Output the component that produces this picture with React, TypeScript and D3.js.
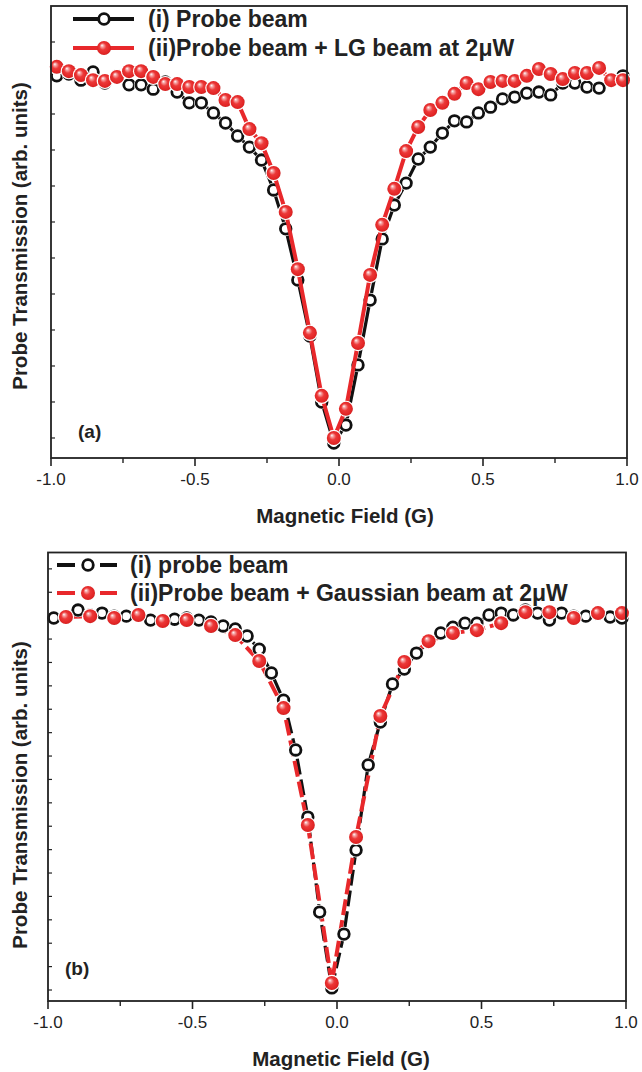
import React from "react";
import * as d3 from "d3";

// ---- data ----
const FIELD = [
  -0.98, -0.938, -0.896, -0.854, -0.813, -0.771, -0.729, -0.687, -0.645, -0.603,
  -0.562, -0.52, -0.478, -0.436, -0.394, -0.352, -0.311, -0.269, -0.227, -0.185,
  -0.143, -0.101, -0.06, -0.018, 0.024, 0.066, 0.108, 0.15, 0.192, 0.233,
  0.275, 0.317, 0.359, 0.401, 0.443, 0.484, 0.526, 0.568, 0.61, 0.652,
  0.694, 0.735, 0.777, 0.819, 0.861, 0.903, 0.945, 0.986,
];
// panel (a)
const A_PROBE = [
  10.06, 10.11, 9.94, 10.17, 9.86, 10.06, 9.81, 9.81, 9.69, 9.89,
  9.61, 9.31, 9.31, 9.03, 8.75, 8.39, 8.08, 7.72, 6.89, 5.81,
  4.39, 2.83, 1.0, -0.14, 0.36, 2.03, 3.83, 5.53, 6.47, 7.08,
  7.75, 8.08, 8.47, 8.81, 8.78, 9.03, 9.19, 9.42, 9.47, 9.58,
  9.61, 9.53, 9.86, 9.86, 9.75, 9.72, 9.94, 10.06,
];
const A_LG = [
  10.31, 10.19, 10.08, 9.94, 9.92, 10.03, 10.19, 10.19, 10.03, 9.83,
  9.83, 9.75, 9.75, 9.72, 9.39, 9.33, 8.58, 8.19, 7.36, 6.28,
  4.69, 2.92, 1.17, 0.0, 0.81, 2.64, 4.53, 5.92, 6.92, 7.97,
  8.64, 9.11, 9.31, 9.56, 9.86, 9.69, 9.89, 9.92, 9.92, 10.06,
  10.25, 10.11, 9.97, 10.14, 10.14, 10.28, 9.94, 9.94,
];
// panel (b)
const B_PROBE = [
  15.9, 15.98, 16.24, 16.03, 16.11, 15.98, 15.98, 16.07, 15.81, 15.81,
  15.85, 15.9, 15.81, 15.73, 15.56, 15.43, 15.13, 14.57, 13.55, 12.39,
  10.26, 7.39, 3.33, 0.09, 2.39, 5.98, 9.62, 11.45, 13.08, 13.72,
  14.4, 14.87, 15.26, 15.51, 15.68, 15.68, 16.03, 16.11, 16.03, 16.24,
  16.11, 15.81, 16.11, 15.98, 15.98, 16.07, 15.94, 15.9,
];
const B_GAUSS_FIELD = [
  -0.938, -0.854, -0.771, -0.687, -0.603, -0.52, -0.436, -0.352, -0.269, -0.185,
  -0.101, -0.018, 0.066, 0.15, 0.233, 0.317, 0.401, 0.484, 0.568, 0.652,
  0.735, 0.819, 0.903, 0.986,
];
const B_GAUSS = [
  15.94, 15.98, 15.9, 16.03, 15.77, 15.81, 15.56, 15.17, 14.06, 12.05,
  7.05, 0.3, 6.54, 11.71, 14.02, 14.91, 15.26, 15.38, 15.68, 16.15,
  16.15, 15.9, 16.11, 16.11,
];
const X_TICKS = [-1, -0.5, 0, 0.5, 1];
const X_MINOR = [-0.75, -0.25, 0.25, 0.75];
const A_YTICKS = [0, 1, 2, 3, 4, 5, 6, 7, 8, 9, 10, 11];
const B_YTICKS = [0, 1, 2, 3, 4, 5, 6, 7, 8, 9, 10, 11, 12, 13, 14, 15, 16, 17, 18];

const LEG_A = ["(i) Probe beam", "(ii)Probe beam + LG beam at 2\u03bcW"];
const LEG_B = ["(i) probe beam", "(ii)Probe beam + Gaussian beam at 2\u03bcW"];

const RED = "#e8282b";
const FONT = "'Liberation Sans', Arial, Helvetica, sans-serif";

type Pt = [number, number];
const zip = (xs: number[], ys: number[]): Pt[] => xs.map((x, i) => [x, ys[i]]);

function Circle({ cx, cy }: { cx: number; cy: number }) {
  return (
    <g>
      <circle cx={cx} cy={cy} r={7.3} fill="#fff" />
      <circle cx={cx} cy={cy} r={5.3} fill="#fff" stroke="#111" strokeWidth={2.8} />
    </g>
  );
}
function Sphere({ cx, cy }: { cx: number; cy: number }) {
  return (
    <g>
      <circle cx={cx} cy={cy} r={8.2} fill="#fff" />
      <circle cx={cx} cy={cy} r={7} fill="url(#sph)" />
    </g>
  );
}

function Panel(props: {
  left: number; right: number; top: number; bottom: number;
  yDomain: [number, number]; yTicks: number[];
  black: Pt[]; red: Pt[]; dashed: boolean;
  legend: string[]; legX: number; legTextX: number; legY: number[];
  tag: string; tagX: number; tagY: number;
  titleX: number; yTitleY: number;
}) {
  const { left, right, top, bottom } = props;
  const x = d3.scaleLinear().domain([-1, 1]).range([left, right]);
  const y = d3.scaleLinear().domain(props.yDomain).range([bottom, top]);
  const line = d3.line<Pt>().x((d) => x(d[0])).y((d) => y(d[1]));
  const dash = props.dashed ? "16,5" : undefined;
  const fmt = (v: number) => d3.format(".1f")(v).replace("\u2212", "-");
  const blackLine = <path d={line(props.black) || ""} fill="none" stroke="#111" strokeWidth={3.2} strokeDasharray={dash} />;
  const redLine = <path d={line(props.red) || ""} fill="none" stroke={RED} strokeWidth={4} strokeDasharray={dash} />;
  const blackMarks = props.black.map((d, i) => <Circle key={"b" + i} cx={x(d[0])} cy={y(d[1])} />);
  const redMarks = props.red.map((d, i) => <Sphere key={"r" + i} cx={x(d[0])} cy={y(d[1])} />);
  const lx = props.legX;
  return (
    <g>
      {props.yTicks.map((t) => (
        <line key={"yt" + t} x1={left} x2={left + 4} y1={y(t)} y2={y(t)} stroke="#222" strokeWidth={1.2} />
      ))}
      {props.dashed ? (
        <g>{blackLine}{redLine}{blackMarks}{redMarks}</g>
      ) : (
        <g>{blackLine}{blackMarks}{redLine}{redMarks}</g>
      )}
      <rect x={left} y={top} width={right - left} height={bottom - top} fill="none" stroke="#222" strokeWidth={1.8} />
      {X_TICKS.map((t) => (
        <g key={"xt" + t}>
          <line x1={x(t)} x2={x(t)} y1={bottom} y2={bottom + 8} stroke="#222" strokeWidth={1.6} />
          <text x={x(t)} y={bottom + 27} textAnchor="middle" fontFamily={FONT} fontSize={17} fill="#222">
            {fmt(t)}
          </text>
        </g>
      ))}
      {X_MINOR.map((t) => (
        <line key={"xm" + t} x1={x(t)} x2={x(t)} y1={bottom} y2={bottom + 5} stroke="#222" strokeWidth={1.4} />
      ))}
      <text x={props.titleX} y={bottom + 65} textAnchor="middle" fontFamily={FONT} fontWeight="bold" fontSize={20.5} fill="#222">
        Magnetic Field (G)
      </text>
      <text
        transform={`translate(19,${props.yTitleY}) rotate(-90)`}
        textAnchor="middle"
        dominantBaseline="central"
        fontFamily={FONT}
        fontWeight="bold"
        fontSize={20.5}
        fill="#222"
      >
        Probe Transmission (arb. units)
      </text>
      <text x={props.tagX} y={props.tagY} dominantBaseline="central" fontFamily={FONT} fontWeight="bold" fontSize={19} fill="#222">
        {props.tag}
      </text>
      {props.dashed ? (
        <g>
          <line x1={lx - 31} x2={lx - 13} y1={props.legY[0]} y2={props.legY[0]} stroke="#111" strokeWidth={4} />
          <line x1={lx + 12} x2={lx + 29} y1={props.legY[0]} y2={props.legY[0]} stroke="#111" strokeWidth={4} />
          <Circle cx={lx} cy={props.legY[0]} />
          <line x1={lx - 31} x2={lx - 13} y1={props.legY[1]} y2={props.legY[1]} stroke={RED} strokeWidth={4} />
          <line x1={lx + 12} x2={lx + 29} y1={props.legY[1]} y2={props.legY[1]} stroke={RED} strokeWidth={4} />
          <Sphere cx={lx} cy={props.legY[1]} />
        </g>
      ) : (
        <g>
          <line x1={lx - 31} x2={lx + 30} y1={props.legY[0]} y2={props.legY[0]} stroke="#111" strokeWidth={4} />
          <circle cx={lx} cy={props.legY[0]} r={5.3} fill="#fff" stroke="#111" strokeWidth={2.8} />
          <line x1={lx - 31} x2={lx + 30} y1={props.legY[1]} y2={props.legY[1]} stroke={RED} strokeWidth={4} />
          <circle cx={lx} cy={props.legY[1]} r={7} fill="url(#sph)" />
        </g>
      )}
      {props.legend.map((s, i) => (
        <text key={"lg" + i} x={props.legTextX} y={props.legY[i]} dominantBaseline="central" fontFamily={FONT} fontWeight="bold" fontSize={23} fill="#222">
          {s}
        </text>
      ))}
    </g>
  );
}

export default function App() {
  return (
    <svg width={642} height={1072} style={{ position: "absolute", left: 0, top: 0, background: "#fff" }}>
      <defs>
        <radialGradient id="sph" cx="50%" cy="50%" r="55%" fx="35%" fy="30%">
          <stop offset="0%" stopColor="#ffffff" />
          <stop offset="18%" stopColor="#f6a3a3" />
          <stop offset="45%" stopColor="#ec3838" />
          <stop offset="85%" stopColor="#e02323" />
          <stop offset="100%" stopColor="#b71717" />
        </radialGradient>
      </defs>
      <rect width={642} height={1072} fill="#fff" />
      <Panel
        left={51} right={627} top={6} bottom={458}
        yDomain={[-0.556, 12]} yTicks={A_YTICKS}
        black={zip(FIELD, A_PROBE)} red={zip(FIELD, A_LG)} dashed={false}
        legend={LEG_A} legX={104} legTextX={148} legY={[19, 48]}
        tag="(a)" tagX={78} tagY={431}
        titleX={345} yTitleY={236}
      />
      <Panel
        left={48} right={626} top={552.5} bottom={1001}
        yDomain={[-0.47, 18.7]} yTicks={B_YTICKS}
        black={zip(FIELD, B_PROBE)} red={zip(B_GAUSS_FIELD, B_GAUSS)} dashed={true}
        legend={LEG_B} legX={88} legTextX={130} legY={[565, 593]}
        tag="(b)" tagX={65} tagY={968}
        titleX={341} yTitleY={795}
      />
    </svg>
  );
}
